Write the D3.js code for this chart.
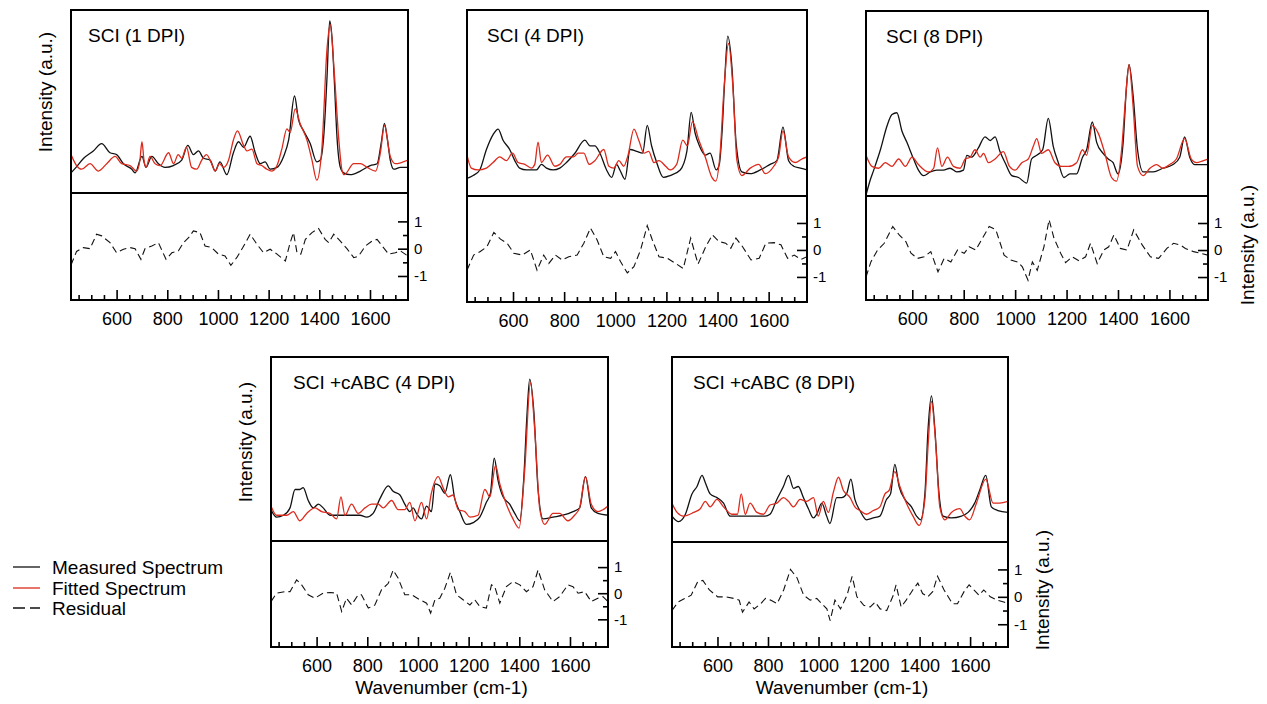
<!DOCTYPE html>
<html><head><meta charset="utf-8">
<script src="https://cdn.jsdelivr.net/npm/d3@7"></script>
<style>
body{margin:0;background:#fff}
svg{display:block}
text{font-family:"Liberation Sans",Arial,Helvetica,sans-serif;fill:#000}
</style>
</head><body>
<svg id="chart" width="1267" height="704"></svg>
<script>
// ---------------- DATA (wavenumber cm-1, intensity a.u.) ----------------
const panelTitles = ["SCI (1 DPI)", "SCI (4 DPI)", "SCI (8 DPI)", "SCI +cABC (4 DPI)", "SCI +cABC (8 DPI)"];
const xTickValues = [600, 800, 1000, 1200, 1400, 1600];
const xMinorTicks = [450, 500, 550, 650, 700, 750, 850, 900, 950, 1050, 1100, 1150, 1250, 1300, 1350, 1450, 1500, 1550, 1650, 1700];
const resTickValues = [-1, 0, 1];
const resMinorTicks = [-0.5, 0.5];
const legendLabels = ["Measured Spectrum", "Fitted Spectrum", "Residual"];
const axisLabelY = "Intensity (a.u.)";
const axisLabelX = "Wavenumber (cm-1)";

const sci1Measured = [[420,11],[440,14],[470,19],[508,23],[541,27],[574,22],[600,21],[627,16],[660,13],[673,11],[700,20],[716,14],[739,20],[765,16],[791,14],[824,15],[857,18],[881,26],[903,21],[923,23],[943,19],[969,18],[989,12],[1008,17],[1035,10],[1061,22],[1081,28],[1101,25],[1127,31],[1147,22],[1167,16],[1186,17],[1206,13],[1233,14],[1259,20],[1279,29],[1302,53],[1318,40],[1338,34],[1364,27],[1390,17],[1404,18],[1418,32],[1430,62],[1441,94],[1450,85],[1459,62],[1470,30],[1483,14],[1496,11],[1522,10],[1562,12],[1601,15],[1628,16],[1645,28],[1657,38],[1668,30],[1680,18],[1694,13],[1720,14],[1750,14]];
const sci1Fitted = [[420,21],[442,15],[462,13],[495,16],[528,12],[561,16],[594,20],[620,16],[653,15],[679,12],[692,18],[700,28],[708,18],[716,14],[732,20],[752,16],[772,15],[805,22],[825,16],[843,21],[857,19],[876,25],[896,14],[916,13],[936,18],[955,21],[975,16],[989,12],[1006,16],[1022,14],[1042,18],[1061,29],[1077,34],[1101,26],[1114,23],[1134,24],[1154,16],[1173,15],[1193,13],[1213,12],[1233,15],[1252,24],[1272,35],[1285,33],[1305,46],[1324,38],[1351,29],[1371,18],[1390,7],[1410,24],[1430,78],[1443,92],[1459,66],[1477,29],[1490,12],[1498,10],[1536,16],[1562,16],[1589,14],[1622,12],[1641,22],[1657,37],[1680,20],[1700,16],[1750,18]];
const sci1Residual = [[420,-0.6],[442,-0.1],[469,0.04],[495,0],[521,0.53],[541,0.47],[574,0.22],[600,-0.15],[627,-0.02],[653,0.04],[673,0],[696,-0.39],[712,0],[739,0.1],[765,0.22],[795,-0.39],[818,-0.15],[844,-0.08],[864,0.22],[884,0.4],[903,0.65],[929,0.59],[949,0.1],[975,0.04],[1002,-0.2],[1028,-0.27],[1051,-0.61],[1074,-0.33],[1098,0.04],[1127,0.53],[1154,0.16],[1180,-0.15],[1206,-0.02],[1233,-0.2],[1266,-0.45],[1285,0.22],[1298,0.59],[1312,-0.15],[1327,-0.2],[1345,0.34],[1371,0.59],[1397,0.74],[1423,0.34],[1437,0.22],[1457,0.53],[1483,0.28],[1509,0],[1536,-0.33],[1555,-0.27],[1582,0.1],[1608,0.28],[1628,0.34],[1648,0.1],[1674,-0.2],[1700,-0.15],[1720,-0.08],[1750,-0.27]];

const sci4Measured = [[420,9.5],[444,11],[470,14],[496,25],[522,33],[542,36],[561,30],[587,25],[607,19],[626,15],[653,14],[692,14],[711,17],[731,15],[757,14],[783,15],[809,18],[842,23],[881,30],[901,27],[920,27],[940,23],[966,14],[986,10],[1005,17],[1018,14],[1038,9],[1058,25],[1084,24],[1107,23],[1125,38],[1142,27],[1162,18],[1188,10],[1214,11],[1254,14],[1280,24],[1297,45],[1312,34],[1329,27],[1352,22],[1371,23],[1395,14],[1407,17],[1418,35],[1428,62],[1440,86],[1456,70],[1473,28],[1495,13],[1528,12],[1567,14],[1606,17],[1632,19],[1656,37],[1678,19],[1698,16],[1724,15],[1750,14]];
const sci4Fitted = [[420,22],[437,15],[463,14],[496,15],[522,18],[548,21],[574,19],[598,23],[620,18],[646,17],[672,15],[685,17],[698,29],[711,18],[735,22],[764,16],[783,17],[809,21],[836,21],[855,23],[877,23],[898,17],[920,19],[955,25],[975,16],[994,15],[1014,19],[1033,16],[1050,22],[1073,36],[1092,30],[1112,23],[1131,24],[1151,18],[1171,19],[1197,16],[1214,14],[1240,17],[1264,30],[1282,27],[1302,40],[1327,30],[1352,21],[1378,10],[1393,8],[1410,23],[1426,59],[1443,82],[1460,59],[1476,19],[1495,11],[1528,15],[1561,17],[1587,12],[1620,16],[1639,21],[1656,35],[1678,21],[1704,18],[1731,20],[1750,21]];
const sci4Residual = [[420,-0.75],[446,-0.19],[472,-0.06],[498,0.12],[525,0.65],[551,0.4],[577,0.25],[603,-0.12],[636,-0.19],[668,0],[694,-0.75],[720,-0.19],[740,-0.5],[766,-0.19],[792,-0.37],[818,-0.25],[851,-0.19],[877,0.25],[903,0.81],[929,0.37],[955,-0.25],[982,-0.31],[1001,-0.06],[1021,-0.44],[1047,-0.85],[1073,-0.62],[1099,0],[1125,0.9],[1145,0.37],[1171,-0.25],[1204,-0.31],[1236,-0.5],[1266,-0.69],[1295,0.44],[1308,0],[1324,-0.52],[1354,0.12],[1380,0.56],[1406,0.31],[1432,0.25],[1452,0.06],[1472,0.44],[1498,0.12],[1531,-0.37],[1563,-0.31],[1589,0.25],[1622,0.27],[1648,0.19],[1674,-0.31],[1700,-0.19],[1727,-0.35],[1750,-0.25]];

const sci8Measured = [[420,0.5],[435,8],[450,14],[476,25],[502,38],[521,44],[540,45],[560,35],[579,29],[605,20],[624,14],[644,11],[670,13],[696,14],[721,14],[747,15],[773,13],[799,14],[812,22],[831,21],[857,26],[883,32],[903,30],[922,32],[941,24],[961,18],[987,11],[1013,10],[1045,7],[1064,20],[1084,22],[1107,25],[1129,42],[1148,27],[1168,18],[1190,10],[1213,12],[1239,12],[1262,21],[1278,25],[1300,40],[1317,29],[1342,23],[1362,20],[1381,18],[1400,12],[1420,29],[1433,59],[1443,71],[1459,54],[1476,25],[1498,13],[1537,13],[1575,15],[1614,17],[1640,21],[1659,32],[1679,21],[1698,17],[1724,17],[1750,17]];
const sci8Fitted = [[420,22],[443,16],[469,15],[495,18],[521,16],[547,20],[573,16],[599,21],[624,17],[663,13],[683,15],[698,26],[715,16],[737,21],[760,16],[786,15],[806,20],[825,21],[844,25],[864,21],[877,23],[896,18],[922,20],[954,24],[978,16],[1000,14],[1026,18],[1051,20],[1071,27],[1084,31],[1103,23],[1129,25],[1155,18],[1181,16],[1207,16],[1239,18],[1262,25],[1278,22],[1300,38],[1323,34],[1349,23],[1375,10],[1394,8],[1414,25],[1429,52],[1443,71],[1459,48],[1476,16],[1498,11],[1524,15],[1550,17],[1575,15],[1601,17],[1627,20],[1659,31],[1685,20],[1705,18],[1730,19],[1750,20]];
const sci8Residual = [[420,-1],[439,-0.44],[465,0],[491,0.25],[524,0.87],[549,0.56],[575,0.31],[595,-0.12],[620,-0.31],[646,-0.25],[672,-0.06],[700,-0.81],[724,-0.31],[750,-0.44],[776,0],[802,-0.12],[821,0.12],[847,0],[873,0.44],[899,0.87],[925,0.75],[957,-0.19],[983,-0.37],[1009,-0.44],[1028,-0.62],[1050,-1.12],[1067,-0.44],[1086,-0.75],[1112,0.12],[1132,1.12],[1151,0.44],[1177,-0.12],[1196,-0.47],[1222,-0.25],[1248,-0.4],[1274,-0.25],[1293,0.25],[1319,-0.5],[1345,0],[1364,0.12],[1384,0.56],[1409,0.06],[1435,0],[1461,0.75],[1494,0.19],[1526,-0.25],[1558,-0.31],[1590,0.06],[1616,0.25],[1642,0.19],[1662,0.06],[1694,-0.06],[1720,-0.12],[1750,-0.19]];

const cabc4Measured = [[420,17],[442,13],[469,14],[495,18],[515,28],[534,28],[547,29],[567,22],[587,18],[607,20],[626,18],[653,14],[692,14],[731,14],[771,14],[797,13],[823,15],[850,23],[883,30],[902,27],[929,25],[948,20],[968,16],[981,18],[994,15],[1014,12],[1034,19],[1053,16],[1067,31],[1086,30],[1106,26],[1128,36],[1145,23],[1165,16],[1191,9],[1218,10],[1244,13],[1270,21],[1286,26],[1301,45],[1316,33],[1336,24],[1362,20],[1382,15],[1402,11],[1418,35],[1430,68],[1441,88],[1457,71],[1474,28],[1494,12],[1533,13],[1572,14],[1612,16],[1638,18],[1661,35],[1684,18],[1710,15],[1750,14]];
const cabc4Fitted = [[420,19],[442,14],[482,14],[508,16],[534,11],[561,15],[593,18],[620,16],[653,15],[679,12],[696,24],[712,14],[738,20],[764,15],[791,18],[817,20],[843,20],[863,18],[896,22],[922,17],[948,17],[968,21],[988,11],[1014,21],[1034,12],[1053,26],[1080,35],[1099,29],[1120,24],[1139,25],[1159,17],[1185,16],[1205,13],[1237,14],[1264,28],[1284,24],[1306,41],[1323,31],[1349,20],[1375,12],[1399,7],[1421,38],[1444,86],[1461,60],[1481,17],[1500,9],[1533,15],[1559,15],[1592,11],[1618,14],[1638,18],[1661,35],[1684,20],[1710,16],[1730,17],[1750,19]];
const cabc4Residual = [[420,-0.32],[442,0],[475,0.06],[495,0.06],[521,0.51],[541,0.32],[567,-0.06],[593,-0.19],[626,0],[653,0.03],[679,0],[699,-0.7],[718,-0.19],[738,-0.45],[764,-0.06],[777,-0.06],[804,-0.57],[830,-0.45],[856,0.13],[883,0.38],[902,0.89],[922,0.57],[948,-0.06],[975,-0.06],[1007,-0.25],[1034,-0.38],[1050,-0.76],[1067,-0.25],[1086,-0.19],[1106,0.19],[1128,0.8],[1152,-0.06],[1178,-0.25],[1205,-0.45],[1224,-0.25],[1244,-0.51],[1270,-0.57],[1290,0.32],[1303,0.25],[1323,-0.38],[1349,0.25],[1375,0.45],[1402,0.32],[1428,0.06],[1454,0.25],[1474,0.89],[1500,0.13],[1533,-0.32],[1559,-0.13],[1592,0.32],[1612,0.25],[1632,0],[1658,0.06],[1684,-0.32],[1710,-0.19],[1730,-0.13],[1750,-0.32]];

const cabc8Measured = [[420,14],[446,11],[473,15],[499,26],[519,30],[539,36],[552,32],[571,26],[598,24],[624,21],[650,14],[690,14],[729,14],[769,14],[789,14],[808,15],[835,23],[861,30],[881,36],[901,29],[920,30],[940,24],[960,18],[980,13],[993,15],[1013,21],[1032,14],[1045,10],[1072,24],[1092,24],[1111,26],[1128,34],[1144,23],[1164,17],[1190,12],[1217,13],[1243,14],[1269,23],[1285,26],[1302,42],[1319,30],[1342,23],[1368,19],[1388,14],[1404,12],[1421,26],[1434,62],[1447,79],[1460,62],[1477,26],[1493,14],[1526,13],[1566,14],[1592,16],[1618,21],[1638,28],[1662,36],[1684,19],[1710,17],[1750,16]];
const cabc8Fitted = [[420,21],[440,16],[466,14],[506,16],[532,18],[552,22],[571,19],[598,23],[624,19],[657,15],[679,15],[694,26],[710,15],[729,21],[756,16],[782,15],[808,20],[835,21],[861,24],[881,22],[901,19],[927,23],[953,22],[980,24],[999,14],[1019,22],[1039,16],[1059,27],[1079,35],[1098,28],[1125,24],[1144,19],[1164,17],[1190,15],[1217,17],[1243,19],[1263,26],[1280,28],[1302,38],[1322,30],[1348,21],[1374,14],[1398,9],[1421,23],[1434,53],[1447,76],[1464,53],[1480,19],[1500,12],[1526,16],[1559,18],[1579,14],[1598,12],[1625,21],[1662,34],[1691,21],[1717,21],[1750,22]];
const cabc8Residual = [[420,-0.5],[444,-0.19],[470,-0.06],[496,0.06],[522,0.56],[542,0.6],[568,0.25],[601,0],[633,0],[666,-0.06],[686,-0.12],[699,-0.56],[725,-0.19],[745,-0.44],[771,-0.25],[790,-0.06],[810,-0.12],[836,-0.25],[862,0.25],[889,1.0],[915,0.69],[941,0.06],[967,-0.12],[993,-0.06],[1013,-0.25],[1033,-0.44],[1046,-0.87],[1065,-0.12],[1087,-0.44],[1113,0.06],[1133,0.75],[1152,0],[1179,-0.31],[1205,-0.37],[1224,-0.19],[1244,-0.44],[1270,-0.5],[1296,0.06],[1307,0.44],[1327,-0.37],[1347,-0.12],[1373,0.25],[1393,0.5],[1412,0.12],[1432,0],[1452,0.19],[1471,0.75],[1497,0.25],[1530,-0.25],[1550,-0.25],[1576,0.19],[1596,0.44],[1615,0.25],[1635,0.06],[1654,0.25],[1680,0],[1707,-0.12],[1733,-0.19],[1750,-0.25]];

// ---------------- LAYOUT ----------------
const xDomain = [420, 1750];
const topDomain = [0, 100];
const RED = "#dc2a1c";
const BLACK = "#111";

const panels = [
  {title: panelTitles[0], measured: sci1Measured, fitted: sci1Fitted, residual: sci1Residual,
   box: {l: 71, r: 408, t: 10, m: 193, b: 300}, resDomain: [-1.88, 2.04], titleDx: 17,
   yLabel: {x: 45, y: 92}},
  {title: panelTitles[1], measured: sci4Measured, fitted: sci4Fitted, residual: sci4Residual,
   box: {l: 467, r: 807, t: 10, m: 196, b: 302}, resDomain: [-1.93, 2.0], titleDx: 20},
  {title: panelTitles[2], measured: sci8Measured, fitted: sci8Fitted, residual: sci8Residual,
   box: {l: 866, r: 1208, t: 11, m: 196, b: 300}, resDomain: [-1.85, 2.0], titleDx: 20,
   yLabel: {x: 1247, y: 245}},
  {title: panelTitles[3], measured: cabc4Measured, fitted: cabc4Fitted, residual: cabc4Residual,
   box: {l: 271, r: 608, t: 357, m: 541, b: 647}, resDomain: [-2.06, 2.0], titleDx: 22,
   yLabel: {x: 245, y: 442}, xLabel: true},
  {title: panelTitles[4], measured: cabc8Measured, fitted: cabc8Fitted, residual: cabc8Residual,
   box: {l: 672, r: 1008, t: 357, m: 542, b: 647}, resDomain: [-1.83, 2.0], titleDx: 21,
   yLabel: {x: 1042, y: 590}, xLabel: true}
];

const svg = d3.select("#chart");
const defs = svg.append("defs");

panels.forEach((p, i) => {
  const B = p.box;
  const g = svg.append("g");
  const x = d3.scaleLinear().domain(xDomain).range([B.l, B.r]);
  const yTop = d3.scaleLinear().domain(topDomain).range([B.m, B.t]);
  const yRes = d3.scaleLinear().domain(p.resDomain).range([B.b, B.m]);

  defs.append("clipPath").attr("id", "ct" + i).append("rect")
    .attr("x", B.l).attr("y", B.t).attr("width", B.r - B.l).attr("height", B.m - B.t);
  defs.append("clipPath").attr("id", "cr" + i).append("rect")
    .attr("x", B.l).attr("y", B.m).attr("width", B.r - B.l).attr("height", B.b - B.m);

  const lineTop = d3.line().x(d => x(d[0])).y(d => yTop(d[1])).curve(d3.curveMonotoneX);
  const lineRes = d3.line().x(d => x(d[0])).y(d => yRes(d[1])).curve(d3.curveLinear);

  const gt = g.append("g").attr("clip-path", `url(#ct${i})`);
  gt.append("path").datum(p.measured).attr("d", lineTop)
    .attr("fill", "none").attr("stroke", BLACK).attr("stroke-width", 1.3);
  gt.append("path").datum(p.fitted).attr("d", lineTop)
    .attr("fill", "none").attr("stroke", RED).attr("stroke-width", 1.3);

  g.append("g").attr("clip-path", `url(#cr${i})`)
    .append("path").datum(p.residual).attr("d", lineRes)
    .attr("fill", "none").attr("stroke", BLACK).attr("stroke-width", 1.1)
    .attr("stroke-dasharray", "7,4");

  // bottom axis (ticks inside)
  const ax = g.append("g").attr("transform", `translate(0,${B.b})`)
    .call(d3.axisBottom(x).tickValues(xTickValues).tickSize(-10).tickPadding(12).tickFormat(d3.format("d")));
  const axm = g.append("g").attr("transform", `translate(0,${B.b})`)
    .call(d3.axisBottom(x).tickValues(xMinorTicks).tickSize(-5).tickFormat(""));
  // right axis (residual)
  const ay = g.append("g").attr("transform", `translate(${B.r},0)`)
    .call(d3.axisRight(yRes).tickValues(resTickValues).tickSize(-10).tickPadding(6).tickFormat(d => String(d)));
  const aym = g.append("g").attr("transform", `translate(${B.r},0)`)
    .call(d3.axisRight(yRes).tickValues(resMinorTicks).tickSize(-5).tickFormat(""));
  [ax, axm, ay, aym].forEach(a => {
    a.select(".domain").remove();
    a.selectAll(".tick line").attr("stroke", "#000").attr("stroke-width", 1.6);
  });
  ax.selectAll("text").attr("font-size", 18).attr("font-family", '"Liberation Sans",Arial,sans-serif').attr("fill", "#000");
  ay.selectAll("text").attr("font-size", 15).attr("font-family", '"Liberation Sans",Arial,sans-serif').attr("fill", "#000");

  // frame
  g.append("rect").attr("x", B.l).attr("y", B.t).attr("width", B.r - B.l).attr("height", B.b - B.t)
    .attr("fill", "none").attr("stroke", "#000").attr("stroke-width", 2);
  g.append("line").attr("x1", B.l).attr("x2", B.r).attr("y1", B.m).attr("y2", B.m)
    .attr("stroke", "#000").attr("stroke-width", 2);

  // title
  g.append("text").attr("x", B.l + p.titleDx).attr("y", B.t + 32)
    .attr("font-size", 19).text(p.title);

  if (p.yLabel) {
    g.append("text").attr("transform", `translate(${p.yLabel.x},${p.yLabel.y}) rotate(-90)`)
      .attr("text-anchor", "middle").attr("dy", "0.35em").attr("font-size", 19).text(axisLabelY);
  }
  if (p.xLabel) {
    g.append("text").attr("x", (B.l + B.r) / 2 + 2).attr("y", B.b + 47)
      .attr("text-anchor", "middle").attr("font-size", 19).text(axisLabelX);
  }
});

// legend
const legendStyles = [
  {stroke: BLACK, dash: null},
  {stroke: RED, dash: null},
  {stroke: BLACK, dash: "12,5"}
];
const legendY = [567, 588, 608];
const lg = svg.append("g");
legendLabels.forEach((lab, i) => {
  lg.append("line").attr("x1", 13).attr("x2", 40).attr("y1", legendY[i]).attr("y2", legendY[i])
    .attr("stroke", legendStyles[i].stroke).attr("stroke-width", 1.3)
    .attr("stroke-dasharray", legendStyles[i].dash);
  lg.append("text").attr("x", 52).attr("y", legendY[i] + 6.5).attr("font-size", 19).text(lab);
});
</script>
</body></html>
